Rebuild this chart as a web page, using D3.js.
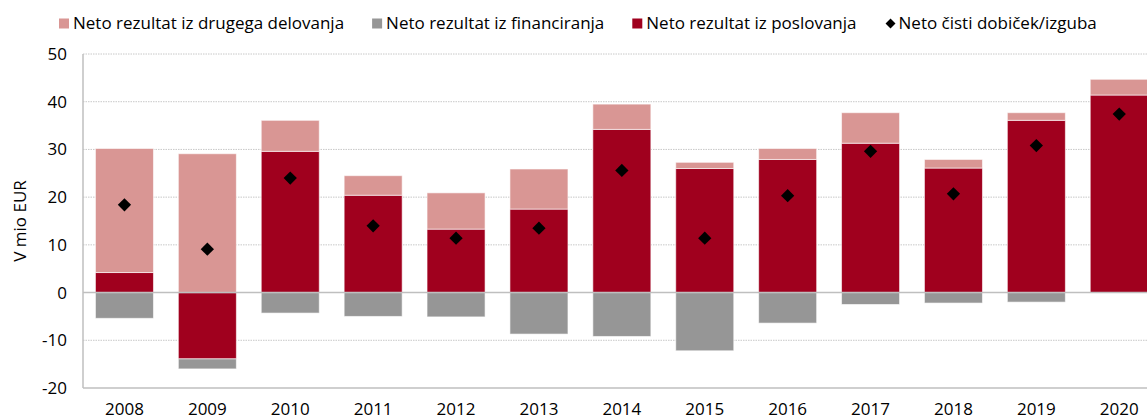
<!DOCTYPE html>
<html lang="sl">
<head>
<meta charset="UTF-8" />
<title>Neto rezultat</title>
<style>
  body { margin: 0; background: #fff; }
  svg { display: block; font-family: "Open Sans", sans-serif; }
</style>
</head>
<body>
<svg id="chart" width="1147" height="419"></svg>
<script src="https://cdn.jsdelivr.net/npm/d3@7"></script>
<script>
var years = ['2008', '2009', '2010', '2011', '2012', '2013', '2014', '2015', '2016', '2017', '2018', '2019', '2020'];
var poslovanje = [4.2, -13.9, 29.6, 20.4, 13.3, 17.5, 34.2, 26.0, 27.9, 31.3, 26.1, 36.1, 41.4];
var drugo = [26.0, 29.1, 6.5, 4.1, 7.6, 8.4, 5.3, 1.3, 2.3, 6.4, 1.8, 1.6, 3.3];
var financiranje = [-5.4, -2.1, -4.3, -5.0, -5.1, -8.7, -9.2, -12.2, -6.4, -2.5, -2.2, -2.0, 0];
var cistiDobicek = [18.4, 9.1, 24.0, 14.0, 11.4, 13.5, 25.6, 11.4, 20.3, 29.6, 20.7, 30.8, 37.4];
var yTicks = [-20, -10, 0, 10, 20, 30, 40, 50];

var series = [
  { key: 'poslovanje', label: 'Neto rezultat iz poslovanja', color: '#a0001e', values: poslovanje },
  { key: 'drugo', label: 'Neto rezultat iz drugega delovanja', color: '#d99694', values: drugo },
  { key: 'financiranje', label: 'Neto rezultat iz financiranja', color: '#969696', values: financiranje }
];

var width = 1147, height = 419;
var fontSize = 17;
var plotLeft = 83, plotRight = 1160.7, plotTop = 54, plotBottom = 388;

var svg = d3.select('#chart');

var rows = years.map(function (yr, i) {
  var r = { year: yr };
  series.forEach(function (s) { r[s.key] = s.values[i]; });
  return r;
});

var stack = d3.stack()
  .keys(series.map(function (s) { return s.key; }))
  .offset(d3.stackOffsetDiverging);
var stacked = stack(rows);

var x = d3.scaleBand().domain(years).range([plotLeft, plotRight]).paddingInner(0.3).paddingOuter(0.15);
var y = d3.scaleLinear().domain([-20, 50]).range([plotBottom, plotTop]);

// grid
svg.append('g')
  .selectAll('line')
  .data(yTicks.filter(function (t) { return t !== 0 && t !== -20; }))
  .join('line')
  .attr('x1', plotLeft).attr('x2', width)
  .attr('y1', function (d) { return y(d); }).attr('y2', function (d) { return y(d); })
  .attr('stroke', '#c8c8c8')
  .attr('stroke-width', 1)
  .attr('stroke-dasharray', '1.5,1');

// bars
var colorOf = {};
series.forEach(function (s) { colorOf[s.key] = s.color; });

svg.append('g')
  .selectAll('g')
  .data(stacked)
  .join('g')
  .attr('fill', function (d) { return colorOf[d.key]; })
  .selectAll('rect')
  .data(function (d) { return d; })
  .join('rect')
  .attr('x', function (d) { return x(d.data.year); })
  .attr('width', x.bandwidth())
  .attr('y', function (d) { return y(Math.max(d[0], d[1])); })
  .attr('height', function (d) { return Math.abs(y(d[0]) - y(d[1])); })
  .attr('stroke', '#fff')
  .attr('stroke-opacity', 0.6)
  .attr('stroke-width', 1);

// zero line, axis lines
svg.append('line')
  .attr('x1', plotLeft).attr('x2', width)
  .attr('y1', y(0)).attr('y2', y(0))
  .attr('stroke', '#bfbfbf').attr('stroke-width', 1.5);
svg.append('line')
  .attr('x1', plotLeft).attr('x2', width)
  .attr('y1', y(-20)).attr('y2', y(-20))
  .attr('stroke', '#bfbfbf').attr('stroke-width', 1.5);
svg.append('line')
  .attr('x1', plotLeft).attr('x2', plotLeft)
  .attr('y1', y(50)).attr('y2', y(-20))
  .attr('stroke', '#bfbfbf').attr('stroke-width', 1.5);

// net profit diamonds
svg.append('g')
  .selectAll('path')
  .data(cistiDobicek)
  .join('path')
  .attr('d', d3.symbol(d3.symbolSquare, 88))
  .attr('transform', function (d, i) {
    return 'translate(' + (x(years[i]) + x.bandwidth() / 2) + ',' + y(d) + ') rotate(45)';
  })
  .attr('fill', '#000');

// y axis labels (plain hyphen for negatives, like the original)
var yAxis = d3.axisLeft(y).tickValues(yTicks).tickSize(0).tickPadding(16)
  .tickFormat(function (d) { return String(d); });
svg.append('g')
  .attr('transform', 'translate(' + plotLeft + ',0)')
  .call(yAxis)
  .call(function (g) { g.select('.domain').remove(); })
  .selectAll('text')
  .attr('font-size', fontSize)
  .attr('font-family', '"Open Sans", sans-serif')
  .attr('fill', '#000');

// x axis labels
var xAxis = d3.axisBottom(x).tickSize(0).tickPadding(15);
svg.append('g')
  .attr('transform', 'translate(0,' + plotBottom + ')')
  .call(xAxis)
  .call(function (g) { g.select('.domain').remove(); })
  .selectAll('text')
  .attr('font-size', fontSize)
  .attr('font-family', '"Open Sans", sans-serif')
  .attr('fill', '#000');

// y title
svg.append('text')
  .attr('transform', 'translate(26,' + ((plotTop + plotBottom) / 2) + ') rotate(-90)')
  .attr('text-anchor', 'middle')
  .attr('font-size', fontSize)
  .text('V mio EUR');

// legend
var legendItems = [
  { label: series[1].label, color: series[1].color, type: 'square' },
  { label: series[2].label, color: series[2].color, type: 'square' },
  { label: series[0].label, color: series[0].color, type: 'square' },
  { label: 'Neto čisti dobiček/izguba', color: '#000', type: 'diamond' }
];
var legend = svg.append('g').attr('font-size', fontSize);
var lx = 59;
legendItems.forEach(function (it) {
  var g = legend.append('g').attr('transform', 'translate(' + lx + ',0)');
  if (it.type === 'square') {
    g.append('rect').attr('x', 0).attr('y', 18.5).attr('width', 10).attr('height', 10).attr('fill', it.color);
  } else {
    g.append('path').attr('d', d3.symbol(d3.symbolSquare, 50))
      .attr('transform', 'translate(6,23.5) rotate(45)').attr('fill', it.color);
  }
  var t = g.append('text').attr('x', 14).attr('y', 29).text(it.label);
  lx += 14 + t.node().getComputedTextLength() + 28;
});
</script>
</body>
</html>
